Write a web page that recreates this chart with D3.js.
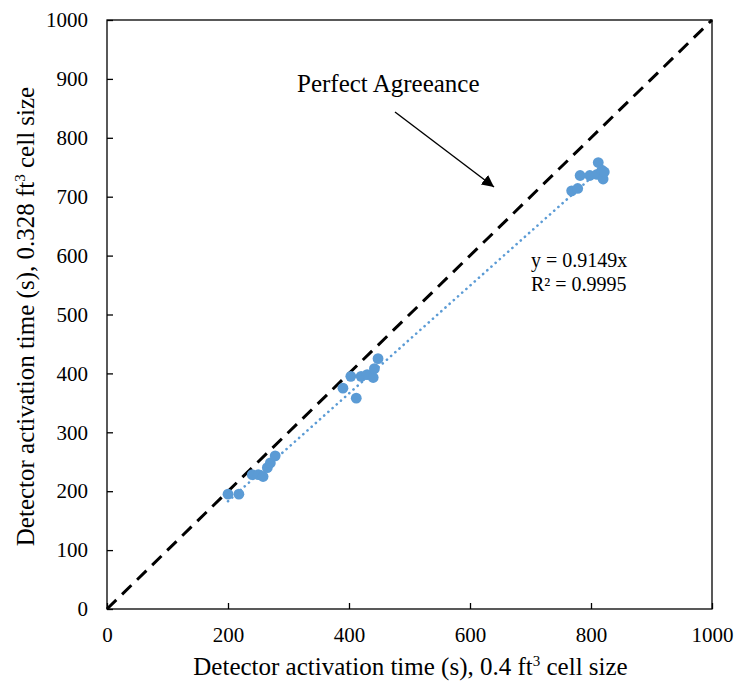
<!DOCTYPE html>
<html>
<head>
<meta charset="utf-8">
<script src="https://cdn.jsdelivr.net/npm/d3@7"></script>
<style>
  html, body { margin: 0; padding: 0; background: #fff; }
  svg { display: block; }
  text { font-family: "Liberation Serif", "Times New Roman", serif; fill: #000; }
</style>
</head>
<body>
<svg id="chart" width="736" height="685"></svg>
<script>
// Detector activation times: coarse mesh (x) vs fine mesh (y)
const coarseTimes = [200, 218, 240, 250, 258, 265, 270, 278,
                     390, 403, 412, 420, 430, 440, 442, 448,
                     768, 778, 782, 798, 810, 812, 818, 820, 822];
const fineTimes   = [195, 195, 228, 228, 225, 240, 248, 260,
                     375, 395, 358, 395, 398, 393, 408, 425,
                     710, 714, 736, 736, 738, 758, 745, 730, 742];
const xTicks = [0, 200, 400, 600, 800, 1000];
const yTicks = [0, 100, 200, 300, 400, 500, 600, 700, 800, 900, 1000];
const slope = 0.9149;
const rSquared = "0.9995";

const svg = d3.select("#chart");
const plotLeft = 107, plotRight = 712, plotTop = 20, plotBottom = 609;

const x = d3.scaleLinear().domain([0, 1000]).range([plotLeft, plotRight]);
const y = d3.scaleLinear().domain([0, 1000]).range([plotBottom, plotTop]);

// plot frame
svg.append("rect")
  .attr("x", plotLeft).attr("y", plotTop)
  .attr("width", plotRight - plotLeft).attr("height", plotBottom - plotTop)
  .attr("fill", "none").attr("stroke", "#000").attr("stroke-width", 1.3);

// axes with inward ticks
const xAxis = svg.append("g").attr("transform", `translate(0,${plotBottom})`)
  .call(d3.axisBottom(x).tickValues(xTicks).tickSize(-6).tickPadding(18).tickFormat(d3.format("d")));
const yAxis = svg.append("g").attr("transform", `translate(${plotLeft},0)`)
  .call(d3.axisLeft(y).tickValues(yTicks).tickSize(-6).tickPadding(19).tickFormat(d3.format("d")));
[xAxis, yAxis].forEach(g => {
  g.select(".domain").remove();
  g.selectAll(".tick line").attr("stroke", "#000").attr("stroke-width", 1.3);
  g.selectAll(".tick text").attr("font-size", 21)
    .attr("font-family", "'Liberation Serif', serif").attr("fill", "#000");
});

// 1:1 reference line
svg.append("line")
  .attr("x1", x(0)).attr("y1", y(0)).attr("x2", x(1000)).attr("y2", y(1000))
  .attr("stroke", "#000").attr("stroke-width", 3).attr("stroke-dasharray", "13,8");

// linear trendline through the origin over the data range
const xMin = d3.min(coarseTimes), xMax = d3.max(coarseTimes);
svg.append("line")
  .attr("x1", x(xMin)).attr("y1", y(slope * xMin))
  .attr("x2", x(xMax)).attr("y2", y(slope * xMax))
  .attr("stroke", "#5B9BD5").attr("stroke-width", 2.6)
  .attr("stroke-dasharray", "0.1,5.5").attr("stroke-linecap", "round");

// data points
svg.append("g").selectAll("circle")
  .data(coarseTimes.map((c, i) => [c, fineTimes[i]]))
  .join("circle")
  .attr("cx", d => x(d[0])).attr("cy", d => y(d[1]))
  .attr("r", 5.4).attr("fill", "#5B9BD5");

// trendline equation
svg.append("text").attr("x", 531).attr("y", 267).attr("font-size", 20)
  .text(`y = ${slope}x`);
svg.append("text").attr("x", 531).attr("y", 291).attr("font-size", 20)
  .text(`R² = ${rSquared}`);

// annotation with arrow
svg.append("defs").append("marker")
  .attr("id", "arrowhead").attr("viewBox", "0 0 10 10")
  .attr("refX", 10).attr("refY", 5)
  .attr("markerWidth", 12).attr("markerHeight", 12)
  .attr("markerUnits", "userSpaceOnUse")
  .attr("orient", "auto")
  .append("path").attr("d", "M0,0 L10,5 L0,10 z").attr("fill", "#000");
svg.append("text").attr("x", 297).attr("y", 92).attr("font-size", 25)
  .text("Perfect Agreeance");
svg.append("line")
  .attr("x1", 395).attr("y1", 112).attr("x2", 494).attr("y2", 187)
  .attr("stroke", "#000").attr("stroke-width", 1.4)
  .attr("marker-end", "url(#arrowhead)");

// axis titles
const xTitle = svg.append("text").attr("x", (plotLeft + plotRight) / 2 + 1).attr("y", 675)
  .attr("text-anchor", "middle").attr("font-size", 25);
xTitle.append("tspan").text("Detector activation time (s), 0.4 ft");
xTitle.append("tspan").attr("font-size", 15).attr("dy", -9).text("3");
xTitle.append("tspan").attr("dy", 9).text(" cell size");

const yTitle = svg.append("text")
  .attr("transform", `translate(34,${(plotTop + plotBottom) / 2 + 2}) rotate(-90)`)
  .attr("text-anchor", "middle").attr("font-size", 25);
yTitle.append("tspan").text("Detector activation time (s), 0.328 ft");
yTitle.append("tspan").attr("font-size", 15).attr("dy", -9).text("3");
yTitle.append("tspan").attr("dy", 9).text(" cell size");
</script>
</body>
</html>
